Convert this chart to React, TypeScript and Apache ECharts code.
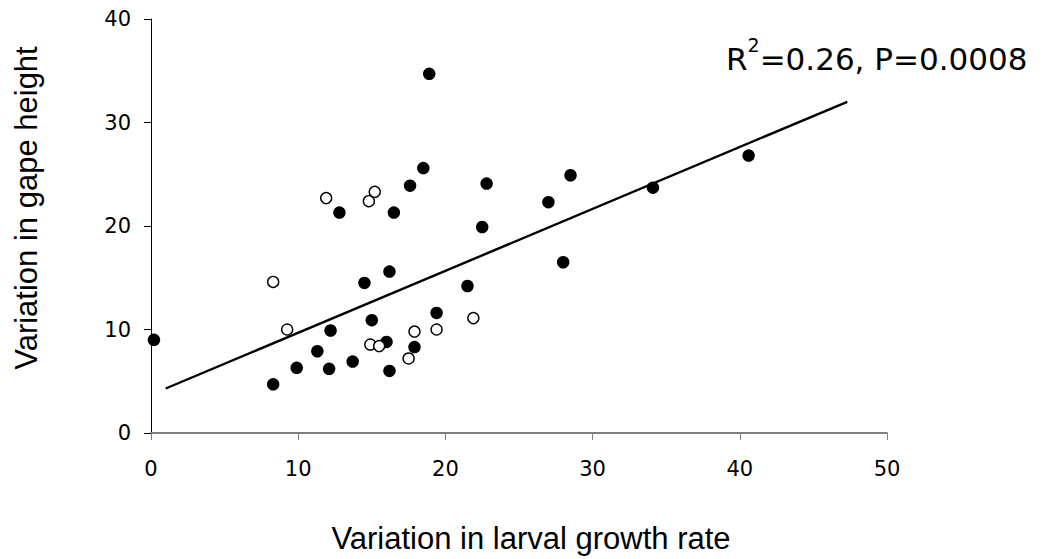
import React, { useEffect, useRef } from "react";
import * as echarts from "echarts";

const filledX = [0.2, 8.3, 9.9, 11.3, 12.1, 12.2, 12.8, 13.7, 14.5, 15.0, 16.0, 16.2, 16.2, 16.5, 17.6, 17.9, 18.5, 18.9, 19.4, 21.5, 22.5, 22.8, 27.0, 28.0, 28.5, 34.1, 40.6];
const filledY = [9.0, 4.7, 6.3, 7.9, 6.2, 9.9, 21.3, 6.9, 14.5, 10.9, 8.8, 15.6, 6.0, 21.3, 23.9, 8.3, 25.6, 34.7, 11.6, 14.2, 19.9, 24.1, 22.3, 16.5, 24.9, 23.7, 26.8];
const openX = [8.3, 9.25, 11.9, 14.8, 14.9, 15.2, 15.5, 17.5, 17.9, 19.4, 21.9];
const openY = [14.6, 10.0, 22.7, 22.4, 8.55, 23.3, 8.4, 7.2, 9.8, 10.0, 11.1];
const fitX = [1.0, 47.3];
const fitY = [4.3, 32.0];
const xTitle = "Variation in larval growth rate";
const yTitle = "Variation in gape height";
const statText = ["R", "2", "=0.26, P=0.0008"];

export default function App() {
  const ref = useRef<HTMLDivElement>(null);
  useEffect(() => {
    if (!ref.current) return;
    const chart = echarts.init(ref.current, null, { renderer: "svg" });
    const tickFont = { fontFamily: "DejaVu Sans", fontSize: 21, color: "#000" };
    chart.setOption({
      animation: false,
      backgroundColor: "#fff",
      grid: { left: 151, right: 162, top: 19, bottom: 126, containLabel: false },
      xAxis: {
        type: "value",
        min: 0,
        max: 50,
        interval: 10,
        splitLine: { show: false },
        axisLine: { show: true, onZero: false, lineStyle: { color: "#808080", width: 2 } },
        axisTick: { show: true, inside: false, length: 7, lineStyle: { color: "#808080", width: 1 } },
        axisLabel: { ...tickFont, margin: 25 },
      },
      yAxis: {
        type: "value",
        min: 0,
        max: 40,
        interval: 10,
        splitLine: { show: false },
        axisLine: { show: true, onZero: false, lineStyle: { color: "#000", width: 1 } },
        axisTick: { show: true, inside: false, length: 7, lineStyle: { color: "#000", width: 1 } },
        axisLabel: { ...tickFont, margin: 20 },
      },
      series: [
        {
          type: "line",
          data: fitX.map((x, i) => [x, fitY[i]]),
          showSymbol: false,
          symbol: "none",
          lineStyle: { color: "#000", width: 2.4 },
          z: 1,
        },
        {
          type: "scatter",
          data: filledX.map((x, i) => [x, filledY[i]]),
          symbol: "circle",
          symbolSize: 12.5,
          itemStyle: { color: "#000", opacity: 1 },
          z: 3,
        },
        {
          type: "scatter",
          data: openX.map((x, i) => [x, openY[i]]),
          symbol: "circle",
          symbolSize: 11,
          itemStyle: { color: "#fff", borderColor: "#000", borderWidth: 1.4, opacity: 1 },
          z: 4,
        },
      ],
      graphic: [
        {
          type: "text",
          x: 531,
          y: 538,
          style: {
            text: xTitle,
            fontFamily: "Liberation Sans",
            fontSize: 31,
            fill: "#000",
            align: "center",
            verticalAlign: "middle",
          },
        },
        {
          type: "text",
          x: 26,
          y: 208,
          rotation: Math.PI / 2,
          style: {
            text: yTitle,
            fontFamily: "Liberation Sans",
            fontSize: 31,
            fill: "#000",
            align: "center",
            verticalAlign: "middle",
          },
        },
        {
          type: "text",
          x: 726,
          y: 59,
          style: {
            text: `{m|${statText[0]}}{s|${statText[1]}}{m|${statText[2]}}`,
            align: "left",
            verticalAlign: "middle",
            rich: {
              m: { fontFamily: "DejaVu Sans", fontSize: 31, fill: "#000", lineHeight: 48, verticalAlign: "middle" },
              s: { fontFamily: "DejaVu Sans", fontSize: 19, fill: "#000", verticalAlign: "top" },
            },
          },
        },
      ],
    });
    return () => chart.dispose();
  }, []);
  return <div ref={ref} style={{ position: "absolute", left: 0, top: 0, width: 1049, height: 559 }} />;
}
